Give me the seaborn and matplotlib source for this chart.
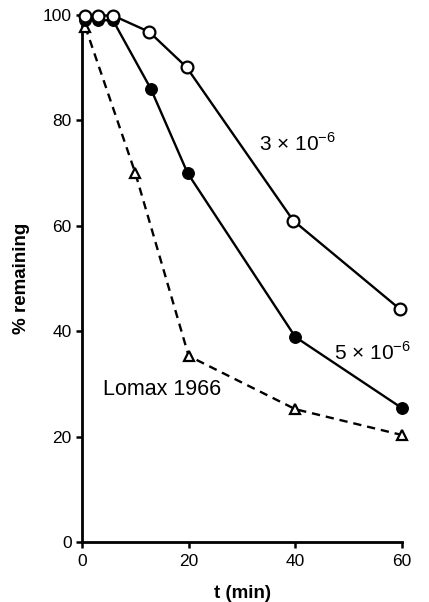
import matplotlib
matplotlib.use("Agg")
import matplotlib.pyplot as plt
import seaborn as sns
import pandas as pd

# Data
t_open = [0.6, 3.0, 5.8, 12.6, 19.6, 39.6, 59.6]
y_open = [99.9, 99.9, 99.9, 96.8, 90.1, 61.0, 44.2]
t_filled = [0.6, 3.0, 5.8, 12.9, 19.8, 40.0, 60.0]
y_filled = [99.0, 99.0, 99.0, 86.0, 70.0, 38.9, 25.4]
t_lomax = [0.6, 10.0, 20.0, 40.0, 60.0]
y_lomax = [97.8, 70.0, 35.3, 25.2, 20.3]
x_ticks = [0, 20, 40, 60]
y_ticks = [0, 20, 40, 60, 80, 100]
label_open = "3 × 10$^{-6}$"
label_filled = "5 × 10$^{-6}$"
label_lomax = "Lomax 1966"

sns.set_style("white")
plt.rcParams['font.family'] = ['Liberation Sans', 'DejaVu Sans']
plt.rcParams['mathtext.fontset'] = 'custom'
plt.rcParams['mathtext.rm'] = 'Liberation Sans'
plt.rcParams['text.color'] = 'black'
plt.rcParams['axes.labelcolor'] = 'black'
plt.rcParams['xtick.color'] = 'black'
plt.rcParams['ytick.color'] = 'black'

fig = plt.figure(figsize=(4.29, 6.02), dpi=100)
ax = fig.add_axes([82/429, 1-542/602, (402-82)/429, (542-15)/602])

df_open = pd.DataFrame({"t": t_open, "y": y_open})
df_filled = pd.DataFrame({"t": t_filled, "y": y_filled})
df_lomax = pd.DataFrame({"t": t_lomax, "y": y_lomax})

sns.lineplot(data=df_lomax, x="t", y="y", ax=ax, color="black", lw=1.7,
             linestyle=(0, (3.5, 2.5)), marker="^", markersize=7.5,
             markerfacecolor="white", markeredgecolor="black", markeredgewidth=1.6,
             clip_on=False, zorder=3)
sns.lineplot(data=df_filled, x="t", y="y", ax=ax, color="black", lw=1.7,
             marker="o", markersize=8.5, markerfacecolor="black",
             markeredgecolor="black", clip_on=False, zorder=4)
sns.lineplot(data=df_open, x="t", y="y", ax=ax, color="black", lw=1.7,
             marker="o", markersize=8.5, markerfacecolor="white",
             markeredgecolor="black", markeredgewidth=1.6, clip_on=False, zorder=5)

ax.set_xlim(0, 60)
ax.set_ylim(0, 100)
ax.set_xticks(x_ticks)
ax.set_yticks(y_ticks)
ax.set_xticklabels([str(v) for v in x_ticks], fontsize=12.5)
ax.set_yticklabels([str(v) for v in y_ticks], fontsize=12.5)
ax.tick_params(axis='both', direction='out', length=4.5, width=1.8, pad=3,
               bottom=True, left=True, colors='black')
ax.tick_params(axis='x', pad=4)
for s in ['top', 'right']:
    ax.spines[s].set_visible(False)
for s in ['left', 'bottom']:
    ax.spines[s].set_linewidth(2)
    ax.spines[s].set_color('black')

ax.set_xlabel("t (min)", fontsize=13.5, fontweight='bold', labelpad=12)
ax.set_ylabel("% remaining", fontsize=13.5, fontweight='bold', labelpad=9)

ax.text(33.2, 75.7, label_open, fontsize=15, va='center', ha='left')
ax.text(47.3, 35.9, label_filled, fontsize=15, va='center', ha='left', clip_on=False)
ax.text(4.0, 29.0, label_lomax, fontsize=15.5, va='center', ha='left')

fig.savefig("out.png", dpi=100)
